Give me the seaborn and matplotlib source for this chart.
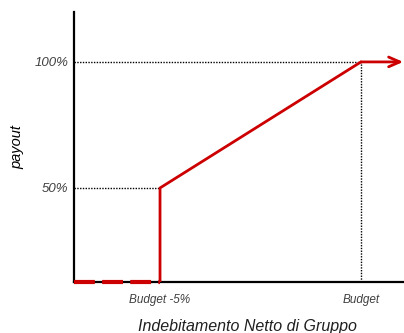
import numpy as np
import matplotlib
matplotlib.use("Agg")
import matplotlib.pyplot as plt
import seaborn as sns

# Payout curve: nothing below Budget -5%, 50% at the threshold, 100% at budget
x_labels = ["Budget -5%", "Budget"]
x_ticks = [95, 100]
curve_x = [95, 95, 100]
curve_y = [0, 50, 100]
floor_x = [92.86, 95]
floor_y = [0, 0]
y_ticks = [50, 100]
y_labels = ["50%", "100%"]

sns.set_style("white")
plt.rcParams["font.family"] = ["Liberation Sans", "DejaVu Sans"]

RED = "#cc0000"
GREY = "#404040"

# schematic payout axis: the lower band is drawn more compact than the upper one
def fwd(y):
    y = np.asarray(y, dtype=float)
    return np.where(y < 50, y * 94 / 50, 94 + (y - 50) * 126 / 50)

def inv(v):
    v = np.asarray(v, dtype=float)
    return np.where(v < 94, v * 50 / 94, 50 + (v - 94) * 50 / 126)

fig = plt.figure(figsize=(4.04, 3.33), dpi=100)
ax = fig.add_axes([74 / 404, 1 - 282 / 333, 330 / 404, 270 / 333])
ax.set_yscale("function", functions=(fwd, inv))
ax.set_xlim(92.86, 101.07)
ax.set_ylim(0, 119.8)

# guide lines
ax.plot([92.86, 100], [100, 100], color="black", lw=1.0, ls=(0, (1, 1)), zorder=2)
ax.plot([92.86, 95], [50, 50], color="black", lw=1.0, ls=(0, (1, 1)), zorder=2)
ax.plot([100, 100], [0, 100], color="black", lw=1.0, ls=(0, (1, 1)), zorder=2)

# payout curve
sns.lineplot(x=curve_x, y=curve_y, sort=False, estimator=None, color=RED,
             linewidth=2.0, ax=ax, zorder=4)
sns.lineplot(x=floor_x, y=floor_y, sort=False, estimator=None, color=RED,
             linewidth=3.0, ax=ax, zorder=5, clip_on=False)
ax.lines[-1].set_linestyle((0, (5, 1.75)))
ax.annotate("", xy=(101.05, 100), xytext=(100, 100),
            arrowprops=dict(arrowstyle="->,head_length=0.8,head_width=0.35",
                            color=RED, lw=2.0, shrinkA=0, shrinkB=0),
            zorder=4, annotation_clip=False)

for side in ("top", "right"):
    ax.spines[side].set_visible(False)
for side in ("left", "bottom"):
    ax.spines[side].set_color("black")
    ax.spines[side].set_linewidth(1.6)

ax.set_xticks(x_ticks)
ax.set_xticklabels(x_labels, fontstyle="italic", color=GREY, fontsize=8.5,
                   family=["Liberation Sans Narrow", "Liberation Sans"])
ax.set_yticks(y_ticks)
ax.set_yticklabels(y_labels, fontstyle="italic", color=GREY, fontsize=9.5)
ax.yaxis.set_minor_locator(matplotlib.ticker.NullLocator())
ax.tick_params(axis="both", length=0)
ax.tick_params(axis="x", pad=9)
ax.tick_params(axis="y", pad=4)

ax.set_ylabel("payout", fontstyle="italic", fontsize=10.5, color="black")
ax.yaxis.set_label_coords(-50 / 330, 0.5)
ax.set_xlabel("Indebitamento Netto di Gruppo", fontstyle="italic", fontsize=11.5,
              color="#202020")
ax.xaxis.set_label_coords((247 - 74) / 330, -(319 - 282) / 270)

fig.savefig("out.png", dpi=100)
